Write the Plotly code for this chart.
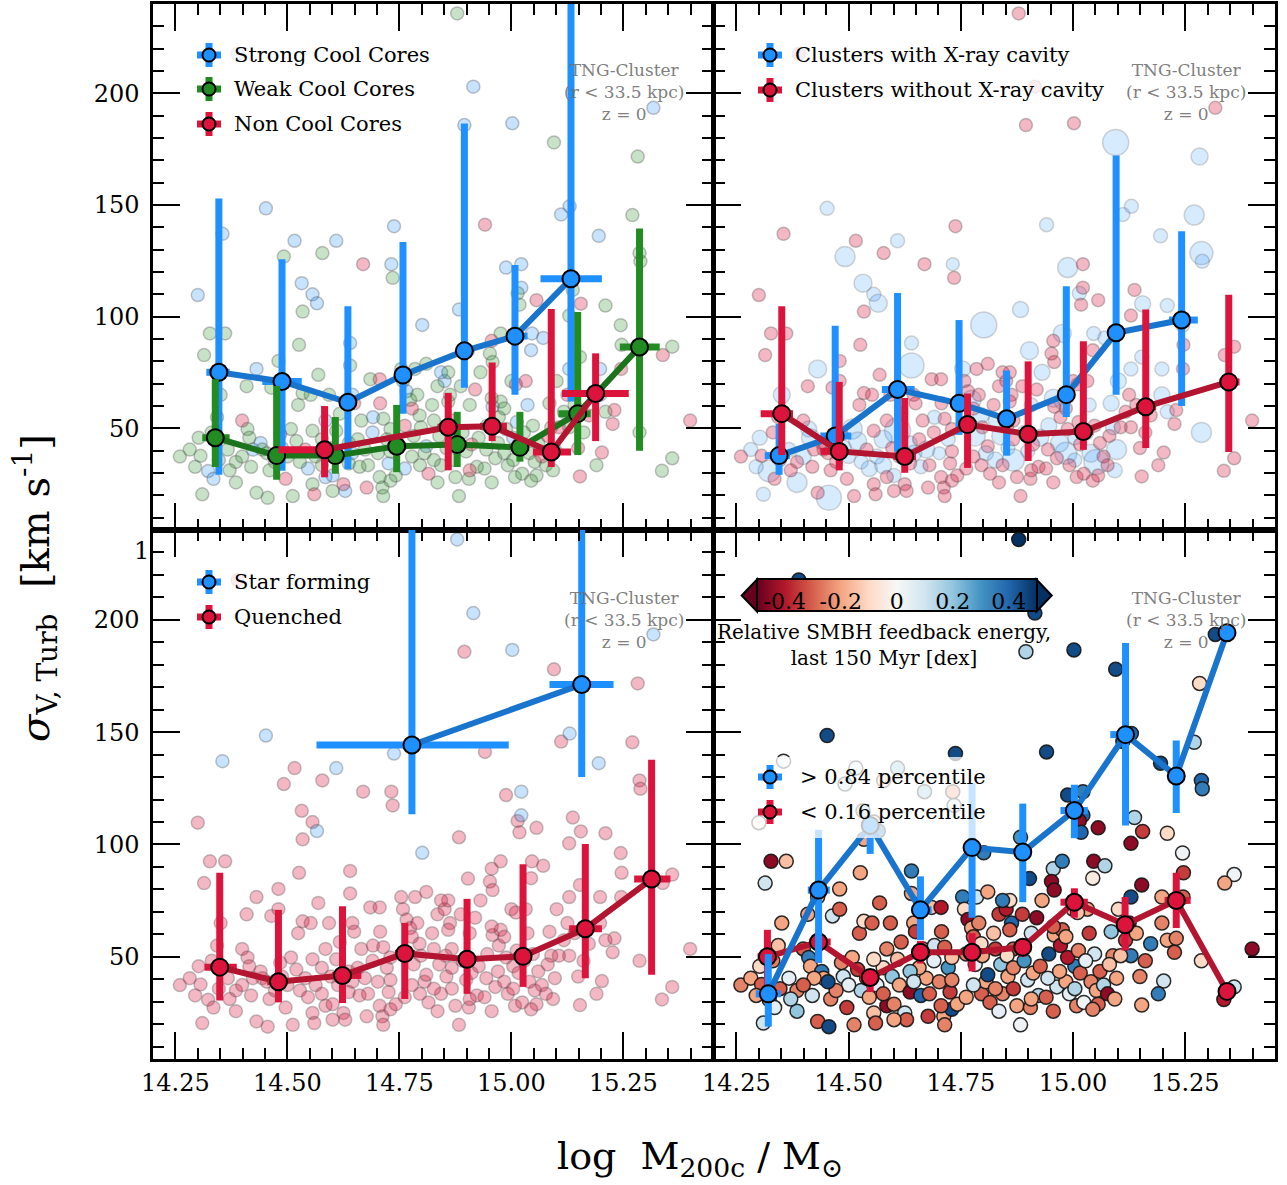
import numpy as np
import plotly.graph_objects as go

FIG_W, FIG_H = 1287, 1185

# ---------------- cluster sample (shared by all four panels) ----------------
# high-sigma / well separated halos
mass_high = [
    14.879, 14.389, 14.915, 14.895, 15.002, 15.317, 15.095, 15.282, 14.452, 14.355,
    15.111, 15.130, 15.270, 14.738, 14.941, 15.195, 14.516, 14.609, 14.492, 14.578,
    14.669, 14.732, 14.735, 15.286, 15.288, 14.988, 15.022, 14.300, 14.532, 14.556,
    14.566, 14.534, 15.022, 15.014, 15.018, 15.056, 15.137, 15.155, 15.210, 15.129,
    14.883, 14.801, 15.244, 15.246, 14.327, 14.361, 14.314, 14.526, 14.640, 14.480,
    14.431, 14.640, 14.569, 14.903, 14.956, 14.976, 14.952, 14.958, 15.046, 15.071,
    15.044, 15.153, 15.245, 15.359, 15.399, 15.359, 15.336, 15.286, 15.338, 15.198,
    15.210, 15.226, 15.202, 15.190, 15.153, 15.149, 15.129, 15.101,
]
sigma_high = [
    235.8, 217.7, 203.0, 185.8, 186.6, 193.5, 178.0, 171.7, 148.5, 137.1,
    145.8, 149.4, 145.5, 140.5, 141.2, 136.2, 134.0, 134.0, 126.9, 128.5,
    123.5, 123.5, 117.4, 128.5, 124.8, 122.0, 123.5, 109.7, 115.0, 110.0,
    106.0, 102.3, 113.0, 110.5, 105.4, 107.4, 112.0, 105.8, 105.0, 100.5,
    103.2, 96.3, 96.2, 87.4, 92.5, 92.5, 82.8, 87.4, 88.2, 80.2,
    76.6, 78.2, 74.0, 84.8, 89.2, 92.5, 83.5, 79.7, 92.5, 90.5,
    85.0, 82.0, 76.6, 86.6, 53.5, 36.6, 31.0, 48.2, 82.8, 76.6,
    57.4, 52.0, 39.2, 33.5, 28.5, 41.2, 50.5, 71.2,
]
cc_high = ("WSSSSSWWSS" "SSWSNSSSWW" "NSWWWSSSSS" "SWSWWNWNWW"
           "SSWWWWWWSW" "SWWWNWWWSS" "SWNWNWWWNS" "WNNWNNWW")
cavity_high = [
    0, 0, 0, 0, 0, 0, 26, 17, 14, 0,
    14, 14, 20, 0, 14, 14, 0, 14, 20, 0,
    0, 13, 0, 23, 14, 20, 0, 0, 18, 14,
    18, 0, 0, 14, 0, 0, 0, 16, 14, 0,
    16, 26, 14, 0, 0, 0, 0, 0, 14, 0,
    18, 25, 0, 18, 0, 18, 0, 0, 14, 14,
    0, 14, 0, 0, 0, 0, 0, 20, 0, 14,
    14, 0, 0, 0, 0, 0, 0, 16,
]
sf_high = [
    1, 0, 1, 0, 1, 1, 0, 0, 1, 1,
    0, 1, 0, 1, 0, 1, 0, 1, 0, 0,
    0, 0, 0, 0, 0, 0, 1, 0, 0, 0,
    1, 0, 1, 0, 0, 0, 0, 0, 0, 0,
    0, 1, 0, 0, 0, 0, 0, 0, 0, 0,
    0, 0, 0, 0, 0, 0, 0, 0, 0, 0,
    0, 0, 0, 0, 0, 0, 0, 0, 0, 0,
    0, 0, 0, 0, 0, 0, 0, 0,
]
fb_high = [
    0.50, 0.45, 0.45, 0.15, 0.45, 0.45, 0.45, -0.10, 0.45, 0.02,
    0.40, 0.40, 0.15, 0.45, 0.45, 0.45, 0.05, 0.20, 0.10, -0.10,
    0.20, -0.20, 0.10, 0.40, 0.35, 0.45, 0.35, -0.05, 0.15, 0.10,
    0.30, -0.20, 0.40, -0.45, 0.40, -0.45, 0.15, -0.35, -0.10, -0.45,
    0.30, 0.35, 0.02, -0.35, -0.45, -0.15, 0.10, -0.20, 0.35, -0.20,
    -0.15, -0.20, -0.30, 0.45, 0.15, 0.35, -0.45, -0.45, -0.45, 0.15,
    -0.05, -0.45, -0.30, 0.02, -0.45, 0.10, -0.40, -0.10, -0.20, -0.20,
    -0.20, -0.30, 0.10, 0.35, -0.20, -0.25, 0.35, -0.10,
]

# dense cloud of halos (all quenched)
mass_mid = [
    14.260, 14.282, 14.302, 14.306, 14.310, 14.323, 14.335, 14.343, 14.351, 14.347,
    14.367, 14.385, 14.385, 14.399, 14.409, 14.411, 14.415, 14.419, 14.431, 14.440,
    14.444, 14.456, 14.460, 14.464, 14.480, 14.484, 14.488, 14.496, 14.508, 14.512,
    14.524, 14.528, 14.534, 14.540, 14.546, 14.552, 14.556, 14.560, 14.563, 14.577,
    14.585, 14.593, 14.597, 14.601, 14.609, 14.613, 14.625, 14.629, 14.637, 14.645,
    14.649, 14.661, 14.673, 14.680, 14.685, 14.690, 14.702, 14.706, 14.707, 14.712,
    14.714, 14.722, 14.726, 14.730, 14.742, 14.754, 14.758, 14.766, 14.774, 14.778,
    14.785, 14.790, 14.795, 14.796, 14.806, 14.810, 14.815, 14.823, 14.835, 14.839,
    14.843, 14.851, 14.855, 14.859, 14.863, 14.867, 14.875, 14.883, 14.887, 14.899,
    14.905, 14.919, 14.923, 14.931, 14.940, 14.946, 14.958, 14.964, 14.972, 14.976,
    14.984, 14.992, 15.000, 15.004, 15.008, 15.016, 15.024, 15.032, 15.036, 15.040,
    15.048, 15.052, 15.056, 15.068, 15.077, 15.085, 15.089, 15.097, 15.106, 15.117,
    15.129, 15.161, 15.173, 15.198, 15.230,
]
sigma_mid = [
    37.4, 40.5, 45.8, 37.7, 20.5, 30.9, 27.4, 55.0, 65.0, 35.8,
    40.5, 35.0, 25.8, 53.5, 68.9, 49.7, 45.8, 32.8, 21.2, 43.5,
    40.5, 18.9, 31.2, 68.2, 71.2, 47.4, 41.2, 27.4, 49.7, 19.7,
    60.5, 35.0, 65.8, 40.5, 32.0, 65.0, 25.0, 20.5, 37.4, 45.1,
    28.2, 65.0, 41.2, 28.9, 48.9, 37.4, 25.0, 22.0, 34.3, 65.0,
    61.2, 32.8, 40.5, 33.5, 72.0, 48.2, 38.9, 72.0, 61.2, 23.5,
    19.7, 45.1, 34.3, 26.6, 28.9, 76.6, 71.2, 66.6, 62.8, 58.9,
    76.6, 65.0, 55.8, 33.5, 38.9, 42.0, 29.7, 60.5, 68.9, 46.6,
    33.5, 71.2, 41.2, 75.1, 65.0, 53.5, 28.2, 19.7, 68.9, 39.7,
    27.4, 67.4, 32.8, 75.1, 32.0, 51.2, 59.7, 36.6, 55.0, 62.0,
    38.9, 33.5, 71.2, 45.8, 28.2, 42.8, 29.7, 71.2, 60.5, 38.9,
    51.2, 35.0, 28.9, 37.4, 33.5, 61.2, 50.5, 40.5, 50.5, 57.4,
    76.6, 48.2, 55.8, 65.0, 58.2,
]
cc_mid = ("WWWWWSSWWW" "WWWNWWWWWS" "WWWWWNWNWW" "WWWNSWWNWW" "SWWSWWNSWS"
          "NWWWWSWNNW" "WWSWWWWSWN" "WWWWWSNWWW" "WSWWWNWWWW" "WNWWWWSWWW"
          "WWWSWWWNSW" "WWWNWWWWNW" "SWNSN")
cavity_mid = [
    0, 14, 15, 0, 14, 22, 0, 0, 17, 0,
    14, 0, 20, 0, 0, 16, 18, 0, 0, 0,
    0, 25, 0, 0, 0, 0, 16, 0, 20, 0,
    0, 14, 0, 0, 16, 0, 0, 0, 15, 18,
    0, 0, 0, 14, 26, 0, 0, 0, 0, 0,
    0, 14, 17, 0, 0, 0, 13, 0, 0, 0,
    0, 14, 0, 0, 0, 16, 0, 0, 19, 0,
    0, 0, 16, 0, 15, 0, 0, 0, 0, 18,
    0, 0, 14, 0, 0, 0, 0, 0, 0, 14,
    0, 0, 0, 16, 0, 16, 0, 0, 0, 16,
    22, 0, 0, 14, 0, 0, 0, 0, 14, 18,
    0, 25, 0, 0, 0, 16, 15, 20, 0, 0,
    14, 0, 0, 16, 0,
]
fb_mid = [
    -0.25, -0.20, -0.10, -0.30, 0.10, -0.20, 0.05, -0.15, -0.20, -0.30,
    0.05, -0.25, 0.20, -0.30, -0.20, 0.35, -0.20, 0.10, -0.30, 0.35,
    -0.20, 0.45, -0.25, 0.10, -0.30, -0.25, 0.10, -0.35, -0.20, -0.25,
    -0.30, 0.15, -0.10, -0.35, -0.20, -0.30, -0.15, -0.30, 0.05, -0.10,
    -0.45, -0.30, 0.20, -0.25, -0.15, -0.20, 0.10, -0.30, -0.45, -0.20,
    -0.35, 0.40, -0.20, -0.30, -0.15, 0.05, -0.25, -0.40, -0.30, -0.20,
    -0.25, 0.30, -0.35, 0.45, -0.20, 0.35, -0.10, -0.45, -0.20, -0.30,
    0.10, -0.25, -0.10, -0.30, -0.20, 0.45, -0.30, -0.15, -0.35, 0.20,
    -0.25, -0.40, -0.20, -0.10, 0.40, -0.30, -0.20, 0.02, -0.35, 0.10,
    -0.25, -0.45, 0.15, -0.20, -0.30, 0.45, -0.20, 0.10, -0.40, -0.30,
    -0.20, 0.05, -0.15, 0.35, -0.25, -0.30, 0.02, -0.20, -0.35, -0.25,
    0.10, -0.20, -0.30, 0.15, -0.45, 0.20, -0.25, -0.20, -0.15, -0.35,
    0.45, -0.30, 0.35, -0.25, -0.25,
]

mass_low = [
    14.665, 14.691, 14.714, 14.730, 14.762, 14.782, 14.798, 14.827, 14.853, 14.867,
    14.891, 14.911, 14.927, 14.944, 14.970, 14.988, 15.012, 15.028, 15.060, 15.081,
    14.657, 14.637, 14.617, 14.585, 14.556, 14.520, 14.500, 14.472, 14.454, 14.423,
    14.399, 14.371, 14.331, 14.294, 14.706, 14.762, 14.778, 14.827, 14.867, 14.907,
    14.956, 15.004, 15.044, 15.093, 14.835, 14.677, 14.601, 14.577, 14.645, 14.730,
    14.984, 15.125, 14.907, 14.859, 14.810, 14.843, 14.956, 15.010, 15.141,
]
sigma_low = [
    53.5, 55.0, 54.3, 49.7, 51.2, 46.6, 50.5, 53.5, 50.5, 45.1,
    48.2, 42.8, 45.8, 40.5, 43.5, 49.7, 52.8, 48.2, 43.5, 46.6,
    45.1, 43.5, 56.6, 53.5, 48.9, 44.3, 37.4, 35.0, 38.9, 40.5,
    37.4, 31.2, 48.2, 32.8, 28.2, 32.0, 37.4, 35.8, 35.8, 31.2,
    25.8, 35.8, 26.6, 31.2, 25.8, 23.5, 22.0, 33.5, 38.9, 39.7,
    58.9, 65.0, 60.5, 62.0, 78.9, 75.1, 63.5, 69.7, 60.5,
]
cc_low = "WSWWNWWWSW" "WNWWWWSWWN" "WWWSWWWWWS" "WWWWWSWWWN" "WWWWWNWWSW" "WNWWWSWNW"
cavity_low = [
    0, 14, 0, 0, 0, 20, 0, 14, 0, 0,
    14, 0, 17, 0, 18, 0, 0, 16, 0, 0,
    0, 14, 0, 0, 0, 18, 14, 0, 0, 0,
    16, 0, 0, 14, 0, 0, 0, 16, 22, 0,
    0, 14, 0, 15, 0, 0, 0, 17, 16, 0,
    0, 0, 14, 0, 0, 0, 18, 0, 0,
]
fb_low = [
    -0.20, 0.10, -0.30, -0.15, -0.25, 0.05, -0.20, -0.35, -0.10, -0.25,
    0.30, -0.20, -0.30, 0.10, -0.20, -0.40, -0.25, 0.05, -0.30, -0.15,
    -0.20, 0.20, -0.30, -0.25, -0.10, -0.35, 0.05, -0.25, 0.45, -0.20,
    -0.30, 0.15, -0.25, -0.20, -0.30, -0.20, 0.10, -0.25, -0.35, -0.20,
    -0.30, 0.15, -0.25, -0.20, 0.05, -0.35, -0.20, -0.30, 0.10, -0.25,
    -0.20, -0.40, 0.10, -0.30, -0.20, 0.35, -0.30, -0.15, -0.20,
]

# ---------------- binned medians (16th-84th percentile bars) ----------------
# top-left: cool-core classes
scc_x = [14.347, 14.488, 14.635, 14.758, 14.895, 15.008, 15.133]
scc_xlo = [14.319, 14.444, 14.615, 14.740, 14.880, 14.992, 15.065]
scc_xhi = [14.371, 14.532, 14.655, 14.775, 14.910, 15.036, 15.202]
scc_med = [75.1, 71.0, 61.7, 73.9, 84.7, 91.3, 117.0]
scc_lo = [29.2, 31.0, 31.7, 56.6, 68.2, 65.1, 62.0]
scc_hi = [152.9, 125.7, 104.7, 133.4, 186.5, 123.2, 260.0]

wcc_x = [14.339, 14.476, 14.607, 14.744, 14.879, 15.019, 15.148, 15.286]
wcc_xlo = [14.310, 14.455, 14.590, 14.725, 14.860, 15.000, 15.105, 15.242]
wcc_xhi = [14.371, 14.495, 14.625, 14.765, 14.900, 15.040, 15.177, 15.331]
wcc_med = [45.8, 37.8, 37.8, 42.0, 42.8, 41.5, 56.6, 86.4]
wcc_lo = [32.7, 27.0, 29.7, 30.4, 32.7, 35.1, 38.1, 40.0]
wcc_hi = [72.0, 69.0, 55.1, 60.5, 57.4, 57.4, 102.1, 139.5]

ncc_x = [14.583, 14.859, 14.957, 15.089, 15.188]
ncc_xlo = [14.480, 14.835, 14.930, 15.048, 15.113]
ncc_xhi = [14.601, 14.880, 14.990, 15.133, 15.262]
ncc_med = [40.4, 50.5, 50.9, 39.4, 65.6]
ncc_lo = [28.1, 31.2, 44.3, 32.7, 44.3]
ncc_hi = [60.0, 65.9, 79.5, 103.4, 83.6]

# top-right: X-ray cavities
cav_x = [14.345, 14.470, 14.609, 14.746, 14.852, 14.985, 15.096, 15.242]
cav_xlo = [14.313, 14.437, 14.574, 14.730, 14.835, 14.970, 15.080, 15.214]
cav_xhi = [14.369, 14.506, 14.647, 14.765, 14.870, 15.000, 15.110, 15.278]
cav_med = [37.8, 46.6, 67.4, 61.2, 54.3, 65.1, 92.8, 98.5]
cav_lo = [29.2, 37.8, 39.7, 47.1, 37.8, 55.1, 65.1, 60.0]
cav_hi = [52.0, 95.9, 110.6, 98.5, 75.9, 113.6, 172.2, 138.3]

nocav_x = [14.351, 14.479, 14.625, 14.765, 14.900, 15.023, 15.162, 15.347]
nocav_xlo = [14.304, 14.437, 14.600, 14.745, 14.880, 15.000, 15.140, 15.326]
nocav_xhi = [14.376, 14.486, 14.650, 14.785, 14.920, 15.045, 15.185, 15.371]
nocav_med = [56.6, 39.7, 37.4, 51.7, 47.4, 48.6, 59.7, 70.8]
nocav_lo = [38.1, 31.2, 30.1, 32.3, 35.4, 40.4, 41.2, 39.4]
nocav_hi = [104.7, 70.8, 63.6, 65.6, 80.0, 89.0, 103.2, 109.8]

# bottom-left: star forming vs quenched BCGs
sf_x = [14.778, 15.157]
sf_xlo = [14.565, 15.085]
sf_xhi = [14.994, 15.228]
sf_med = [144.3, 171.2]
sf_lo = [113.5, 130.0]
sf_hi = [300.0, 300.0]

q_x = [14.349, 14.480, 14.623, 14.762, 14.901, 15.026, 15.165, 15.313]
q_xlo = [14.315, 14.455, 14.600, 14.740, 14.880, 15.005, 15.129, 15.274]
q_xhi = [14.387, 14.500, 14.665, 14.785, 14.920, 15.045, 15.202, 15.355]
q_med = [45.4, 38.9, 41.7, 51.5, 48.9, 50.2, 62.5, 84.6]
q_lo = [30.5, 29.7, 29.4, 31.2, 33.5, 36.6, 40.5, 42.0]
q_hi = [87.4, 70.9, 72.5, 65.1, 75.8, 91.2, 100.2, 137.7]

# bottom-right: SMBH feedback energy percentiles
hi_x = [14.321, 14.433, 14.548, 14.660, 14.775, 14.888, 15.003, 15.117, 15.230, 15.343]
hi_xlo = [14.293, 14.409, 14.530, 14.640, 14.760, 14.870, 14.972, 15.083, 15.215, 15.343]
hi_xhi = [14.349, 14.458, 14.565, 14.685, 14.790, 14.905, 15.033, 15.137, 15.245, 15.343]
hi_med = [33.5, 79.7, 108.5, 70.9, 98.6, 96.6, 115.1, 148.9, 130.5, 194.3]
hi_lo = [18.9, 47.4, 95.8, 57.4, 67.4, 74.3, 102.8, 108.5, 114.0, 194.3]
hi_hi = [51.2, 106.6, 111.2, 85.8, 127.4, 118.2, 126.6, 189.7, 146.3, 194.3]

lo_x = [14.319, 14.433, 14.548, 14.660, 14.775, 14.888, 15.003, 15.116, 15.230, 15.343]
lo_xlo = [14.297, 14.412, 14.525, 14.645, 14.760, 14.870, 14.972, 15.100, 15.204, 15.343]
lo_xhi = [14.341, 14.460, 14.565, 14.680, 14.790, 14.905, 15.033, 15.135, 15.262, 15.343]
lo_med = [50.0, 56.6, 40.8, 52.0, 52.0, 54.3, 74.3, 64.3, 75.1, 34.6]
lo_lo = [35.8, 47.4, 34.3, 47.0, 43.5, 50.0, 67.4, 52.8, 62.8, 34.6]
lo_hi = [62.0, 58.9, 43.5, 57.0, 60.5, 58.0, 80.5, 76.6, 87.4, 34.6]

# axis ticks
x_ticks = [14.25, 14.50, 14.75, 15.00, 15.25]
x_ticklabels = ["14.25", "14.50", "14.75", "15.00", "15.25"]
y_ticks = [50, 100, 150, 200]
cbar_ticks = [-0.4, -0.2, 0.0, 0.2, 0.4]
cbar_ticklabels = ["-0.4", "-0.2", "0", "0.2", "0.4"]

# ---------------- assemble ----------------
mass = np.array(mass_high + mass_mid + mass_low)
sigma = np.array(sigma_high + sigma_mid + sigma_low)
cc_class = np.array(list(cc_high + cc_mid + cc_low))
cavity_size = np.array(cavity_high + cavity_mid + cavity_low)
star_forming = np.array(sf_high + [0] * (len(mass_mid) + len(mass_low)))
fb_rel = np.array(fb_high + fb_mid + fb_low)

BLUE, BLUE_LINE = "#1e90ff", "#1874cd"
RED, RED_LINE = "#dc143c", "#b3142f"
GREEN, GREEN_LINE = "#228b22", "#1b741b"
FONT = "DejaVu Serif"

RdBu = ["rgb(103,0,31)", "rgb(178,24,43)", "rgb(214,96,77)", "rgb(244,165,130)",
        "rgb(253,219,199)", "rgb(247,247,247)", "rgb(209,229,240)", "rgb(146,197,222)",
        "rgb(67,147,195)", "rgb(33,102,172)", "rgb(5,48,97)"]
colorscale = [[i / 10, c] for i, c in enumerate(RdBu)]


def px(x):
    return x / FIG_W


def py(y):
    return 1 - y / FIG_H


fig = go.Figure()
pt_edge = dict(color="rgba(70,70,70,0.32)", width=1.5)


def cloud(mask, fill, xa, ya, size=13):
    fig.add_trace(go.Scatter(
        x=mass[mask], y=sigma[mask], mode="markers", xaxis=xa, yaxis=ya,
        marker=dict(size=size if np.isscalar(size) else size[mask], color=fill, line=pt_edge),
        hoverinfo="skip", showlegend=False))


def median(xa, ya, x, xlo, xhi, med, lo, hi, bar, line):
    x, xlo, xhi = np.array(x), np.array(xlo), np.array(xhi)
    med, lo, hi = np.array(med), np.array(lo), np.array(hi)
    fig.add_trace(go.Scatter(
        x=x, y=med, mode="markers", xaxis=xa, yaxis=ya,
        marker=dict(size=1, color="rgba(0,0,0,0)"),
        error_y=dict(type="data", symmetric=False, array=hi - med, arrayminus=med - lo,
                     color=bar, thickness=7, width=0),
        error_x=dict(type="data", symmetric=False, array=xhi - x, arrayminus=x - xlo,
                     color=bar, thickness=7, width=0),
        hoverinfo="skip", showlegend=False))
    fig.add_trace(go.Scatter(
        x=x, y=med, mode="lines+markers", xaxis=xa, yaxis=ya,
        line=dict(color=line, width=6),
        marker=dict(size=17, color=bar, line=dict(color="black", width=2)),
        hoverinfo="skip", showlegend=False))


# top-left: cool cores
cloud(cc_class == "S", "rgba(30,144,255,0.25)", "x", "y")
cloud(cc_class == "W", "rgba(34,139,34,0.25)", "x", "y")
cloud(cc_class == "N", "rgba(220,20,60,0.30)", "x", "y")
median("x", "y", scc_x, scc_xlo, scc_xhi, scc_med, scc_lo, scc_hi, BLUE, BLUE_LINE)
median("x", "y", wcc_x, wcc_xlo, wcc_xhi, wcc_med, wcc_lo, wcc_hi, GREEN, GREEN_LINE)
median("x", "y", ncc_x, ncc_xlo, ncc_xhi, ncc_med, ncc_lo, ncc_hi, RED, RED_LINE)

# top-right: cavities
cloud(cavity_size > 0, "rgba(30,144,255,0.25)", "x2", "y2", size=cavity_size)
cloud(cavity_size == 0, "rgba(220,20,60,0.30)", "x2", "y2")
median("x2", "y2", cav_x, cav_xlo, cav_xhi, cav_med, cav_lo, cav_hi, BLUE, BLUE_LINE)
median("x2", "y2", nocav_x, nocav_xlo, nocav_xhi, nocav_med, nocav_lo, nocav_hi, RED, RED_LINE)

# bottom-left: star formation
cloud(star_forming == 0, "rgba(220,20,60,0.30)", "x3", "y3")
cloud(star_forming == 1, "rgba(30,144,255,0.25)", "x3", "y3")
median("x3", "y3", sf_x, sf_xlo, sf_xhi, sf_med, sf_lo, sf_hi, BLUE, BLUE_LINE)
median("x3", "y3", q_x, q_xlo, q_xhi, q_med, q_lo, q_hi, RED, RED_LINE)

# bottom-right: SMBH feedback colour
fig.add_trace(go.Scatter(
    x=mass, y=sigma, mode="markers", xaxis="x4", yaxis="y4",
    marker=dict(size=14, color=fb_rel, colorscale=colorscale, cmin=-0.5, cmax=0.5,
                line=dict(color="rgba(20,20,20,0.9)", width=1.5),
                showscale=True,
                colorbar=dict(orientation="h", x=px(896.7), xanchor="center",
                              y=py(595.5), yanchor="middle", len=280, lenmode="pixels",
                              thickness=32, thicknessmode="pixels", xpad=0, ypad=0,
                              outlinewidth=2, outlinecolor="black",
                              tickvals=cbar_ticks, ticktext=cbar_ticklabels,
                              ticks="", ticklabelposition="inside",
                              tickfont=dict(family=FONT, size=22, color="black"))),
    hoverinfo="skip", showlegend=False))
median("x4", "y4", lo_x, lo_xlo, lo_xhi, lo_med, lo_lo, lo_hi, RED, RED_LINE)
median("x4", "y4", hi_x, hi_xlo, hi_xhi, hi_med, hi_lo, hi_hi, BLUE, BLUE_LINE)

# ---------------- axes ----------------
xdom_l = [153 / FIG_W, 713 / FIG_W]
xdom_r = [714 / FIG_W, 1275 / FIG_W]
ydom_t = [py(530), py(4)]
ydom_b = [py(1059), py(530)]

common = dict(showline=True, linewidth=2.5, linecolor="black", mirror="allticks",
              ticks="inside", ticklen=27, tickwidth=2, tickcolor="black",
              showgrid=False, zeroline=False, automargin=False,
              tickfont=dict(family=FONT, size=24, color="black"))
xcommon = dict(common, range=[14.2, 15.45], tickvals=x_ticks, ticktext=x_ticklabels,
               minor=dict(tick0=14.25, dtick=0.05, ticks="inside", ticklen=11,
                          tickwidth=1.5, tickcolor="black"))
ycommon = dict(common, range=[4.5, 240], tickvals=y_ticks,
               minor=dict(tick0=0, dtick=10, ticks="inside", ticklen=11,
                          tickwidth=1.5, tickcolor="black"))

fig.update_layout(
    template="none",
    width=FIG_W, height=FIG_H,
    margin=dict(l=0, r=0, t=0, b=0, pad=0, autoexpand=False),
    paper_bgcolor="white", plot_bgcolor="white", showlegend=False,
    xaxis=dict(xcommon, domain=xdom_l, anchor="y", showticklabels=False),
    xaxis2=dict(xcommon, domain=xdom_r, anchor="y2", showticklabels=False),
    xaxis3=dict(xcommon, domain=xdom_l, anchor="y3", showticklabels=True, ticklabelstandoff=0),
    xaxis4=dict(xcommon, domain=xdom_r, anchor="y4", showticklabels=True, ticklabelstandoff=0),
    yaxis=dict(ycommon, domain=ydom_t, anchor="x", showticklabels=True, ticklabelstandoff=6),
    yaxis2=dict(ycommon, domain=ydom_t, anchor="x2", showticklabels=False),
    yaxis3=dict(ycommon, domain=ydom_b, anchor="x3", showticklabels=True, ticklabelstandoff=6),
    yaxis4=dict(ycommon, domain=ydom_b, anchor="x4", showticklabels=False),
)

# ---------------- legends (drawn as errorbar glyphs) ----------------
shapes, annos = [], []
for (x0, y0, x1, y1) in [(190, 35, 440, 142), (752, 35, 1120, 108),
                         (190, 563, 385, 636), (748, 757, 992, 838)]:
    shapes.append(dict(type="rect", xref="paper", yref="paper", layer="above",
                       x0=px(x0), x1=px(x1), y0=py(y1), y1=py(y0),
                       fillcolor="rgba(255,255,255,0.75)", line=dict(width=0)))


def legend_item(cx, cy, color, text, tx):
    shapes.append(dict(type="rect", xref="paper", yref="paper", layer="above",
                       x0=px(cx - 12), x1=px(cx + 12), y0=py(cy + 3.5), y1=py(cy - 3.5),
                       fillcolor=color, line=dict(width=0)))
    shapes.append(dict(type="rect", xref="paper", yref="paper", layer="above",
                       x0=px(cx - 3.5), x1=px(cx + 3.5), y0=py(cy + 12), y1=py(cy - 12),
                       fillcolor=color, line=dict(width=0)))
    shapes.append(dict(type="circle", xref="paper", yref="paper", layer="above",
                       x0=px(cx - 6.5), x1=px(cx + 6.5), y0=py(cy + 6.5), y1=py(cy - 6.5),
                       fillcolor=color, line=dict(color="black", width=2)))
    annos.append(dict(x=px(tx), y=py(cy), xref="paper", yref="paper", text=text,
                      xanchor="left", yanchor="middle", showarrow=False,
                      font=dict(family=FONT, size=21, color="black")))


legend_item(209, 55, BLUE, "Strong Cool Cores", 232)
legend_item(209, 89, GREEN, "Weak Cool Cores", 232)
legend_item(209, 124, RED, "Non Cool Cores", 232)
legend_item(770, 55, BLUE, "Clusters with X-ray cavity", 793)
legend_item(770, 90, RED, "Clusters without X-ray cavity", 793)
legend_item(209, 582, BLUE, "Star forming", 232)
legend_item(209, 617, RED, "Quenched", 232)
legend_item(770, 777, BLUE, "&gt; 0.84 percentile", 798)
legend_item(770, 812, RED, "&lt; 0.16 percentile", 798)

# colorbar extension triangles
shapes.append(dict(type="path", xref="paper", yref="paper", layer="above",
                   path=f"M {px(741.7)},{py(595.5)} L {px(757)},{py(579.5)} L {px(757)},{py(611.5)} Z",
                   fillcolor=RdBu[0], line=dict(color="black", width=2)))
shapes.append(dict(type="path", xref="paper", yref="paper", layer="above",
                   path=f"M {px(1051.7)},{py(595.5)} L {px(1036.5)},{py(579.5)} L {px(1036.5)},{py(611.5)} Z",
                   fillcolor=RdBu[-1], line=dict(color="black", width=2)))

annos.append(dict(x=px(884), y=py(645), xref="paper", yref="paper",
                  text="Relative SMBH feedback energy,<br>last 150 Myr [dex]",
                  xanchor="center", yanchor="middle", showarrow=False, align="center",
                  font=dict(family=FONT, size=20, color="black")))

for cx, cy in [(624, 92), (1186, 92), (624, 620), (1186, 620)]:
    annos.append(dict(x=px(cx), y=py(cy), xref="paper", yref="paper",
                      text="TNG-Cluster<br>(r &lt; 33.5 kpc)<br>z = 0",
                      xanchor="center", yanchor="middle", showarrow=False, align="center",
                      font=dict(family=FONT, size=17, color="rgba(110,110,110,0.9)")))

annos.append(dict(x=px(700), y=py(1158), xref="paper", yref="paper",
                  text="log  M<sub>200c</sub> / M<sub>⊙</sub>",
                  xanchor="center", yanchor="middle", showarrow=False,
                  font=dict(family=FONT, size=38, color="black")))
annos.append(dict(x=px(35), y=py(588), xref="paper", yref="paper", textangle=-90,
                  text="<i>σ</i><sub>V, Turb</sub>  [km s<sup>-1</sup>]",
                  xanchor="center", yanchor="middle", showarrow=False,
                  font=dict(family=FONT, size=40, color="black")))
annos.append(dict(x=px(141), y=py(551), xref="paper", yref="paper", text="1",
                  xanchor="center", yanchor="middle", showarrow=False,
                  font=dict(family=FONT, size=24, color="black")))

fig.update_layout(shapes=shapes, annotations=annos)
fig.write_html("out.html")
